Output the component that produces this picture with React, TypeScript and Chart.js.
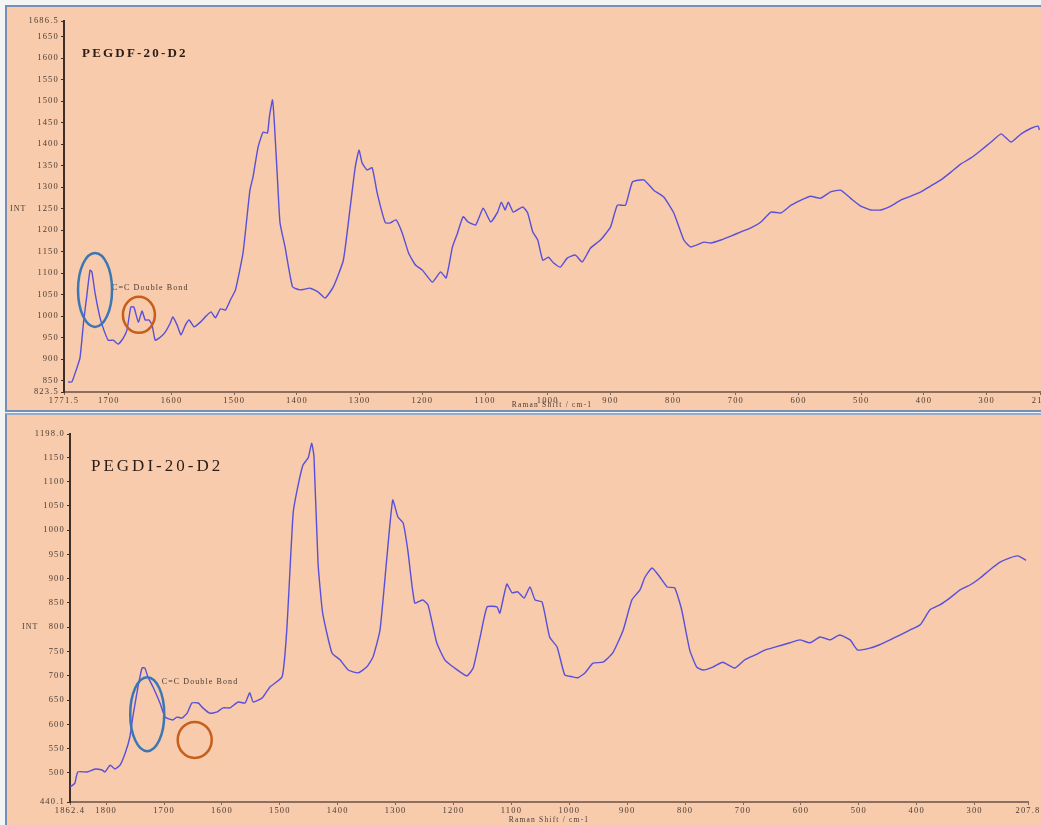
import React, { useEffect, useRef } from "react";
import { Chart, registerables } from "chart.js";

Chart.register(...registerables);

// ---------- Top spectrum: PEGDF-20-D2 ----------
const topShift = [
  1765, 1759, 1752, 1746, 1740, 1735, 1730, 1727, 1722, 1714,
  1708, 1701, 1693, 1685, 1677, 1671, 1665, 1660, 1653, 1647,
  1642, 1636, 1631, 1626, 1618, 1610, 1602, 1598, 1591, 1585,
  1578, 1572, 1564, 1554, 1545, 1537, 1530, 1522, 1514, 1506,
  1498, 1486, 1475, 1470, 1462, 1454, 1447, 1444, 1439, 1436,
  1431, 1427, 1419, 1407, 1395, 1379, 1366, 1355, 1342, 1326,
  1315, 1307, 1301, 1296, 1288, 1280, 1272, 1259, 1251, 1242,
  1232, 1222, 1211, 1200, 1184, 1171, 1162, 1152, 1144, 1135,
  1127, 1115, 1103, 1091, 1080, 1074, 1068, 1063, 1055, 1040,
  1032, 1024, 1016, 1008, 999, 991, 980, 969, 956, 945,
  932, 916, 900, 889, 876, 865, 847, 831, 815, 799,
  783, 772, 751, 740, 724, 708, 692, 676, 660, 644,
  628, 612, 596, 581, 565, 549, 533, 517, 501, 485,
  469, 453, 437, 421, 405, 389, 373, 357, 341, 325,
  309, 293, 277, 261, 245, 229, 218, 216,
];
const topIntensity = [
  847, 847, 875, 903, 990, 1049, 1107, 1103, 1054, 996,
  968, 944, 944, 935, 949, 968, 1021, 1021, 986, 1012,
  991, 991, 979, 944, 951, 963, 984, 998, 979, 956,
  979, 991, 975, 986, 1000, 1010, 996, 1017, 1014, 1038,
  1061, 1147, 1293, 1324, 1393, 1428, 1426, 1463, 1503, 1449,
  1317, 1217, 1161, 1068, 1061, 1065, 1056, 1042, 1068, 1130,
  1254, 1347, 1386, 1356, 1340, 1345, 1286, 1217, 1217, 1224,
  1193, 1147, 1119, 1107, 1079, 1103, 1089, 1161, 1193, 1231,
  1219, 1212, 1251, 1219, 1242, 1265, 1247, 1265, 1242, 1254,
  1240, 1196, 1177, 1130, 1137, 1124, 1114, 1135, 1142, 1126,
  1158, 1177, 1207, 1258, 1258, 1312, 1317, 1293, 1277, 1240,
  1177, 1161, 1172, 1170, 1177, 1186, 1196, 1205, 1219, 1242,
  1240, 1258, 1270, 1279, 1274, 1289, 1293, 1274, 1256, 1247,
  1247, 1256, 1270, 1279, 1289, 1303, 1317, 1335, 1354, 1368,
  1386, 1405, 1424, 1405, 1424, 1437, 1442, 1433,
];
const topXTicks = [1771.5, 1700, 1600, 1500, 1400, 1300, 1200, 1100, 1000, 900, 800, 700, 600, 500, 400, 300, 215];
const topXLabels = ["1771.5", "1700", "1600", "1500", "1400", "1300", "1200", "1100", "1000", "900", "800", "700", "600", "500", "400", "300", "215"];
const topYTicks = [823.5, 850, 900, 950, 1000, 1050, 1100, 1150, 1200, 1250, 1300, 1350, 1400, 1450, 1500, 1550, 1600, 1650, 1686.5];
const topYLabels = ["823.5", "850", "900", "950", "1000", "1050", "1100", "1150", "1200", "1250", "1300", "1350", "1400", "1450", "1500", "1550", "1600", "1650", "1686.5"];

// ---------- Bottom spectrum: PEGDI-20-D2 ----------
const bottomShift = [
  1862, 1854, 1849, 1833, 1819, 1807, 1802, 1793, 1785, 1776,
  1767, 1759, 1754, 1745, 1738, 1733, 1728, 1719, 1707, 1698,
  1685, 1678, 1669, 1660, 1652, 1641, 1633, 1621, 1609, 1598,
  1586, 1572, 1560, 1552, 1546, 1530, 1517, 1496, 1488, 1477,
  1469, 1460, 1451, 1445, 1441, 1434, 1426, 1410, 1396, 1382,
  1365, 1350, 1339, 1327, 1315, 1305, 1296, 1287, 1279, 1267,
  1253, 1244, 1229, 1215, 1198, 1177, 1166, 1154, 1142, 1125,
  1120, 1108, 1099, 1089, 1078, 1068, 1059, 1047, 1034, 1021,
  1008, 995, 985, 973, 959, 942, 925, 907, 892, 878,
  869, 857, 844, 831, 818, 806, 792, 780, 769, 752,
  735, 714, 697, 679, 662, 645, 619, 602, 584, 567,
  550, 533, 515, 502, 481, 464, 446, 429, 412, 394,
  377, 360, 343, 325, 308, 291, 274, 256, 239, 225,
  211,
];
const bottomIntensity = [
  471, 479, 502, 502, 508, 506, 502, 516, 508, 516,
  541, 574, 615, 677, 716, 716, 698, 677, 644, 615,
  609, 615, 613, 623, 644, 644, 634, 623, 625, 634,
  634, 646, 644, 665, 646, 655, 677, 698, 794, 1035,
  1089, 1134, 1149, 1179, 1151, 932, 829, 747, 733, 712,
  706, 718, 739, 794, 945, 1062, 1027, 1015, 959, 850,
  856, 846, 768, 733, 716, 700, 716, 780, 842, 842,
  829, 889, 871, 873, 860, 883, 856, 852, 780, 759,
  702, 698, 696, 706, 726, 728, 747, 794, 856, 877,
  904, 922, 904, 883, 881, 836, 753, 718, 712, 718,
  728, 716, 733, 743, 753, 759, 768, 774, 768, 780,
  774, 784, 774, 753, 757, 764, 774, 784, 794, 805,
  836, 846, 860, 877, 887, 901, 918, 934, 943, 947,
  938,
];
const bottomXTicks = [1862.4, 1800, 1700, 1600, 1500, 1400, 1300, 1200, 1100, 1000, 900, 800, 700, 600, 500, 400, 300, 207.8];
const bottomXLabels = ["1862.4", "1800", "1700", "1600", "1500", "1400", "1300", "1200", "1100", "1000", "900", "800", "700", "600", "500", "400", "300", "207.8"];
const bottomYTicks = [440.1, 500, 550, 600, 650, 700, 750, 800, 850, 900, 950, 1000, 1050, 1100, 1150, 1198.0];
const bottomYLabels = ["440.1", "500", "550", "600", "650", "700", "750", "800", "850", "900", "950", "1000", "1050", "1100", "1150", "1198.0"];

const SERIF = "'Liberation Serif', 'DejaVu Serif', serif";
const PEACH = "#f7cbab";
const LINE = "#5a4fd8";
const TICK_COLOR = "#4a3b34";

type Ellipse = { x: number; y: number; rx: number; ry: number; color: string };
type Notes = {
  title: string;
  titleFont: string;
  titleSpacing: string;
  titleDx: number;
  titleDy: number;
  intAt: number;
  intDx: number;
  bondAt: [number, number];
  ellipses: Ellipse[];
};

function makeNotesPlugin(n: Notes) {
  return {
    id: "notes",
    beforeDraw(chart: any) {
      (chart.ctx as any).letterSpacing = "1.2px";
    },
    afterDraw(chart: any) {
      const { ctx, chartArea } = chart;
      const xs = chart.scales.x;
      const ys = chart.scales.y;
      ctx.save();
      (ctx as any).letterSpacing = n.titleSpacing;
      ctx.font = n.titleFont;
      ctx.fillStyle = "#2a1c16";
      ctx.textAlign = "left";
      ctx.textBaseline = "alphabetic";
      ctx.fillText(n.title, chartArea.left + n.titleDx, chartArea.top + n.titleDy);
      (ctx as any).letterSpacing = "1px";
      ctx.font = `8px ${SERIF}`;
      ctx.fillStyle = TICK_COLOR;
      ctx.textBaseline = "middle";
      ctx.fillText("INT", chartArea.left + n.intDx, ys.getPixelForValue(n.intAt));
      ctx.font = `8px ${SERIF}`;
      ctx.fillStyle = "#4a3a32";
      (ctx as any).letterSpacing = "1.1px";
      ctx.fillText("C=C Double Bond", xs.getPixelForValue(n.bondAt[0]), ys.getPixelForValue(n.bondAt[1]));
      for (const e of n.ellipses) {
        ctx.beginPath();
        ctx.ellipse(xs.getPixelForValue(e.x), ys.getPixelForValue(e.y), e.rx, e.ry, 0, 0, Math.PI * 2);
        ctx.strokeStyle = e.color;
        ctx.lineWidth = 2.5;
        ctx.stroke();
      }
      ctx.restore();
    },
  };
}

function buildConfig(opts: {
  shift: number[];
  intensity: number[];
  xTicks: number[];
  xLabels: string[];
  yTicks: number[];
  yLabels: string[];
  xMin: number;
  xMax: number;
  yMin: number;
  yMax: number;
  axisLeft: number;
  axisHeight: number;
  padTop: number;
  padRight: number;
  notes: Notes;
}) {
  const points = opts.shift.map((x, i) => ({ x, y: opts.intensity[i] }));
  return {
    type: "line" as const,
    data: {
      datasets: [
        {
          data: points,
          borderColor: LINE,
          borderWidth: 1.4,
          pointRadius: 0,
          tension: 0.15,
          fill: false,
        },
      ],
    },
    options: {
      animation: false as const,
      responsive: false,
      devicePixelRatio: 1,
      layout: { padding: { top: opts.padTop, right: opts.padRight, left: 0, bottom: 0 } },
      plugins: { legend: { display: false }, tooltip: { enabled: false } },
      scales: {
        x: {
          type: "linear" as const,
          reverse: true,
          min: opts.xMin,
          max: opts.xMax,
          afterBuildTicks: (s: any) => {
            s.ticks = opts.xTicks.map((v) => ({ value: v }));
          },
          afterFit: (s: any) => {
            s.height = opts.axisHeight;
            s.paddingLeft = 0;
            s.paddingRight = 0;
          },
          ticks: {
            autoSkip: false,
            maxRotation: 0,
            minRotation: 0,
            padding: 1,
            color: TICK_COLOR,
            font: { family: SERIF, size: 8.5 },
            callback: (_v: any, i: number) => opts.xLabels[i],
          },
          grid: {
            display: true,
            drawOnChartArea: false,
            drawTicks: true,
            tickLength: 3,
            color: "#7d6558",
          },
          border: { display: true, color: "#8a7062", width: 2 },
          title: {
            display: true,
            text: "Raman Shift / cm-1",
            color: TICK_COLOR,
            font: { family: SERIF, size: 7.5 },
            padding: 0,
          },
        },
        y: {
          type: "linear" as const,
          min: opts.yMin,
          max: opts.yMax,
          afterBuildTicks: (s: any) => {
            s.ticks = opts.yTicks.map((v) => ({ value: v }));
          },
          afterFit: (s: any) => {
            s.width = opts.axisLeft;
            s.paddingTop = 0;
            s.paddingBottom = 0;
          },
          ticks: {
            autoSkip: false,
            padding: 2,
            color: TICK_COLOR,
            font: { family: SERIF, size: 8.5 },
            callback: (_v: any, i: number) => opts.yLabels[i],
          },
          grid: {
            display: true,
            drawOnChartArea: false,
            drawTicks: true,
            tickLength: 3,
            color: "#3d2e28",
          },
          border: { display: true, color: "#3d2e28", width: 2 },
        },
      },
    },
    plugins: [makeNotesPlugin(opts.notes)],
  };
}

export default function App() {
  const topRef = useRef<HTMLCanvasElement | null>(null);
  const bottomRef = useRef<HTMLCanvasElement | null>(null);

  useEffect(() => {
    if (!topRef.current || !bottomRef.current) return;
    const top = new Chart(
      topRef.current,
      buildConfig({
        shift: topShift,
        intensity: topIntensity,
        xTicks: topXTicks,
        xLabels: topXLabels,
        yTicks: topYTicks,
        yLabels: topYLabels,
        xMin: 215,
        xMax: 1771.5,
        yMin: 823.5,
        yMax: 1686.5,
        axisLeft: 64,
        axisHeight: 18,
        padTop: 21,
        padRight: 1,
        notes: {
          title: "PEGDF-20-D2",
          titleFont: `bold 13px ${SERIF}`,
          titleSpacing: "2.2px",
          titleDx: 18,
          titleDy: 36,
          intAt: 1250,
          intDx: -54,
          bondAt: [1695, 1065],
          ellipses: [
            { x: 1722, y: 1061, rx: 17, ry: 37, color: "#3b77b3" },
            { x: 1652, y: 1003, rx: 16, ry: 18, color: "#c65f1b" },
          ],
        },
      }) as any
    );
    const bottom = new Chart(
      bottomRef.current,
      buildConfig({
        shift: bottomShift,
        intensity: bottomIntensity,
        xTicks: bottomXTicks,
        xLabels: bottomXLabels,
        yTicks: bottomYTicks,
        yLabels: bottomYLabels,
        xMin: 207.8,
        xMax: 1862.4,
        yMin: 440.1,
        yMax: 1198.0,
        axisLeft: 70,
        axisHeight: 23,
        padTop: 21,
        padRight: 13,
        notes: {
          title: "PEGDI-20-D2",
          titleFont: `17px ${SERIF}`,
          titleSpacing: "3px",
          titleDx: 21,
          titleDy: 37,
          intAt: 800,
          intDx: -48,
          bondAt: [1704, 687],
          ellipses: [
            { x: 1729, y: 621, rx: 17, ry: 37, color: "#3b77b3" },
            { x: 1647, y: 568, rx: 17, ry: 18, color: "#c65f1b" },
          ],
        },
      }) as any
    );
    return () => {
      top.destroy();
      bottom.destroy();
    };
  }, []);

  const border = "#7391b8";
  return (
    <div style={{ position: "fixed", left: 0, top: 0, width: 1041, height: 825, background: "#f4f4f4", overflow: "hidden" }}>
      <div
        style={{
          position: "absolute",
          left: 5,
          top: 5,
          width: 1036,
          height: 407,
          boxSizing: "border-box",
          background: PEACH,
          borderTop: `2px solid ${border}`,
          borderLeft: `2px solid ${border}`,
          borderBottom: `2px solid ${border}`,
        }}
      />
      <div
        style={{
          position: "absolute",
          left: 5,
          top: 413,
          width: 1036,
          height: 412,
          boxSizing: "border-box",
          background: PEACH,
          borderTop: `2px solid #93abc9`,
          borderLeft: `2px solid ${border}`,
        }}
      />
      <canvas ref={topRef} width={1041} height={410} style={{ position: "absolute", left: 0, top: 0, width: 1041, height: 410 }} />
      <canvas ref={bottomRef} width={1041} height={412} style={{ position: "absolute", left: 0, top: 413, width: 1041, height: 412 }} />
    </div>
  );
}
